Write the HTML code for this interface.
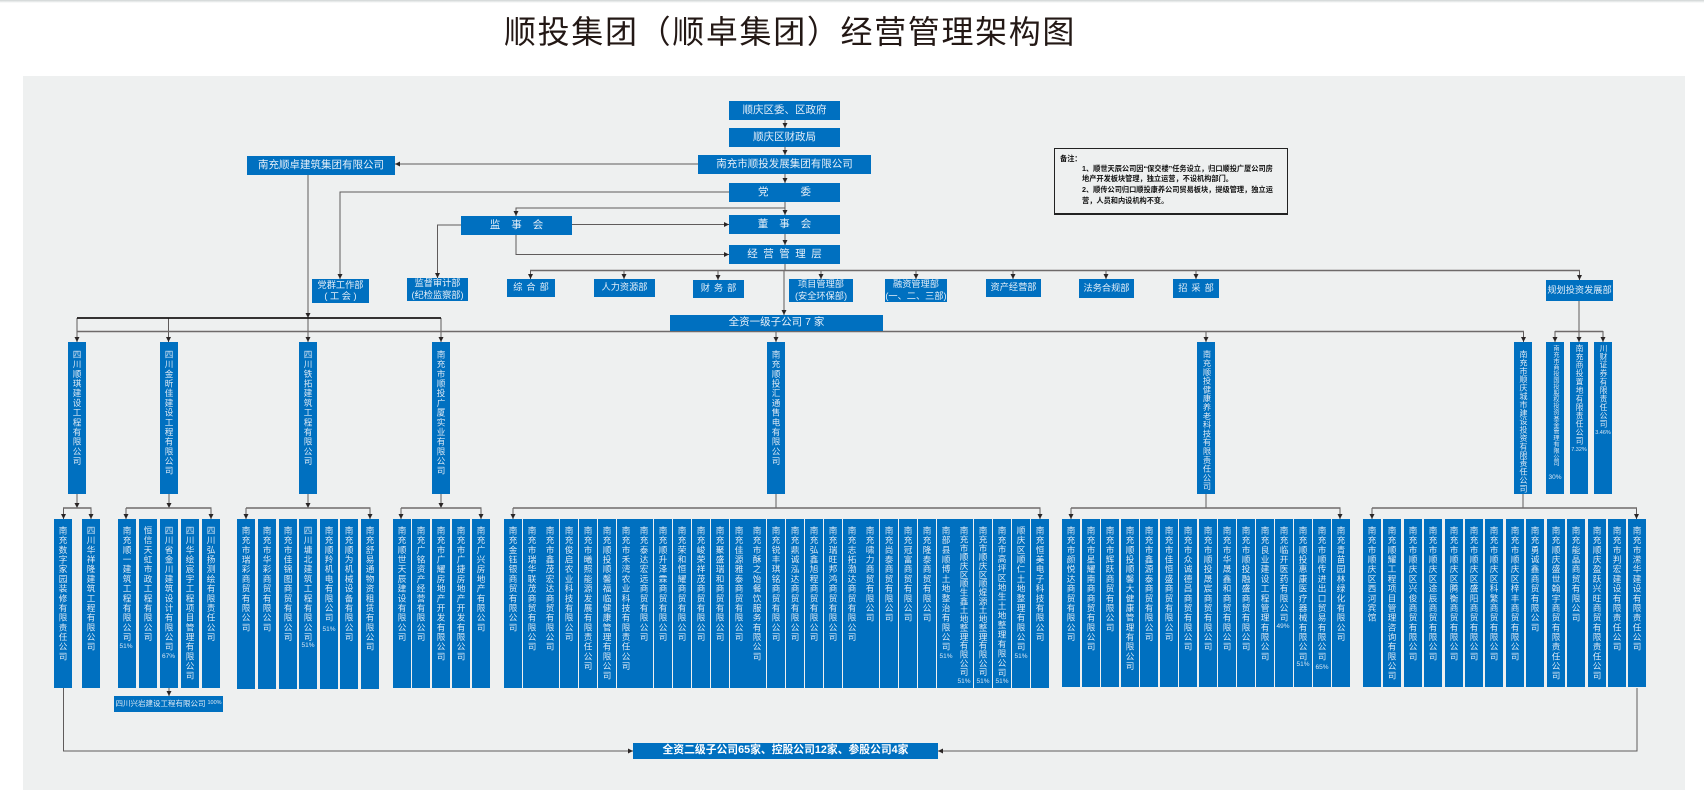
<!DOCTYPE html>
<html lang="zh">
<head>
<meta charset="utf-8">
<title>顺投集团&#xFF08;顺卓集团&#xFF09;经营管理架构图</title>
<style>
html,body{margin:0;padding:0;background:#fff}
#p{position:relative;width:1704px;height:807px;overflow:hidden;background:#fff;font-family:"Liberation Sans","Noto Sans CJK SC",sans-serif}
#top{position:absolute;left:0;top:0;width:1704px;height:3px;background:linear-gradient(#cfd4d4,#fff)}
#t{position:absolute;left:504px;top:12px;font-size:32px;line-height:40px;letter-spacing:1.65px;color:#231815;font-weight:400;white-space:nowrap}
#bg{position:absolute;left:23px;top:76px;width:1662px;height:714px;background:#eef0f0}
svg{position:absolute;left:0;top:0}
.b{position:absolute;background:#0070c0;color:#e3eef8;text-align:center;font-size:10.5px;white-space:nowrap;display:flex;align-items:center;justify-content:center;line-height:11.5px}
.d{font-size:9.2px}
.v,.l{position:absolute;background:#0070c0;color:#dce9f5;width:18px;writing-mode:vertical-rl;text-orientation:upright;font-size:8.6px;letter-spacing:1.07px;line-height:18px;white-space:nowrap;box-sizing:border-box}
.v{top:519px;height:169px;padding-top:6.5px}
.l{top:342px;height:152px;padding-top:7.5px}
.p{position:absolute;font-style:normal;color:#d5e5f3;font-size:6.5px;line-height:8px;transform:translate(-50%,-50%);white-space:nowrap}
#n{position:absolute;left:1054px;top:148px;width:232px;height:64px;border:1px solid #222;border-bottom-width:2px;color:#111;font-weight:bold;font-size:7.2px;line-height:10.67px;white-space:nowrap}
</style>
</head>
<body>
<div id="p">
<div id="top"></div>
<div id="t">顺投集团&#xFF08;顺卓集团&#xFF09;经营管理架构图</div>
<div id="bg"></div>
<svg width="1704" height="807" viewBox="0 0 1704 807" fill="none" stroke="#5f5b5b" stroke-width="1">
<defs><marker id="a" viewBox="0 0 6 6" refX="6" refY="3" markerWidth="5" markerHeight="5" markerUnits="userSpaceOnUse" orient="auto"><path d="M0 0L6 3L0 6z" fill="#2a2525" stroke="none"/></marker></defs>
<g marker-end="url(#a)">
<path d="M785 120V128"/><path d="M785 147V155"/><path d="M698 164H395"/><path d="M308 175V318"/>
<path d="M785 174V183"/><path d="M785 202V215"/><path d="M785 208H516V216"/><path d="M572 224.5H729"/>
<path d="M461 225H437.5V278"/><path d="M516 235V254.5H729"/><path d="M785 234V245"/><path d="M729 192H340V279"/>
<path d="M530.5 271V279"/><path d="M624 271V279"/><path d="M718 271V280"/><path d="M821 271V279"/><path d="M916 271V279"/><path d="M1013 271V279"/><path d="M1106 271V279"/><path d="M1196 271V279"/><path d="M1579.5 271V280"/>
<path d="M784 271V315"/>
<path d="M77 318V342"/><path d="M168.5 318V342"/><path d="M308 318V342"/><path d="M441 318V342"/>
<path d="M776 331V342"/><path d="M1206 331V342"/><path d="M1523.5 331V342"/><path d="M1555 331V342"/><path d="M1579 301V342"/><path d="M1603 331V342"/>
<path d="M77 494V508"/><path d="M169 494V508"/><path d="M308 494V508"/><path d="M441 494V508"/>
<path d="M63.5 508V519"/><path d="M91 508V519"/><path d="M126 508V519"/><path d="M211 508V519"/><path d="M246 508V519"/><path d="M370 508V519"/><path d="M401 508V519"/><path d="M481 508V519"/>
<path d="M513 508V519"/><path d="M1040 508V519"/><path d="M1071 508V519"/><path d="M1340 508V519"/><path d="M1372 508V519"/><path d="M1636.5 508V519"/>
<path d="M169 688V696"/>
<path d="M63.5 688V751H633"/><path d="M1637 688V751H938"/>
</g>
<path d="M785 264V271"/>
<path d="M776 494V508M1206 494V508M1523 494V508"/>
<g stroke-width="1.5" stroke="#6e6a6a">
<path d="M530 270.5H1580"/>
<path d="M77 331.5H1524"/>
<path d="M1555 331.5H1603"/>
<path d="M63 508H91.5M126 508H211.5M246 508H370.5M401 508H481.5M513 508H1040.5M1071 508H1340.5M1372 508H1637"/>
</g>
<path d="M77 318H441" stroke="#1a1717" stroke-width="1.8"/>
</svg>

<div class="b" style="left:729px;top:101px;width:111px;height:19px">顺庆区委、区政府</div>
<div class="b" style="left:729px;top:128px;width:111px;height:19px">顺庆区财政局</div>
<div class="b" style="left:698px;top:155px;width:173px;height:19px">南充市顺投发展集团有限公司</div>
<div class="b" style="left:247px;top:156px;width:148px;height:19px">南充顺卓建筑集团有限公司</div>
<div class="b" style="left:729px;top:183px;width:111px;height:19px;letter-spacing:32px;text-indent:32px">党委</div>
<div class="b" style="left:729px;top:215px;width:111px;height:19px;letter-spacing:11px;text-indent:11px">董事会</div>
<div class="b" style="left:461px;top:216px;width:111px;height:19px;letter-spacing:11px;text-indent:11px">监事会</div>
<div class="b" style="left:729px;top:245px;width:111px;height:19px;letter-spacing:5.5px;text-indent:5.5px">经营管理层</div>

<div class="b d" style="left:312px;top:279px;width:57px;height:24px">党群工作部<br>( 工 会 )</div>
<div class="b d" style="left:407px;top:278px;width:61px;height:23px">监督审计部<br>(纪检监察部)</div>
<div class="b d" style="left:507px;top:279px;width:48px;height:18px;letter-spacing:4px;text-indent:4px">综合部</div>
<div class="b d" style="left:594px;top:279px;width:61px;height:18px">人力资源部</div>
<div class="b d" style="left:693px;top:280px;width:51px;height:18px;letter-spacing:4px;text-indent:4px">财务部</div>
<div class="b d" style="left:789px;top:279px;width:64px;height:23px">项目管理部<br>(安全环保部)</div>
<div class="b d" style="left:885px;top:279px;width:62px;height:23px">融资管理部<br>(一、二、三部)</div>
<div class="b d" style="left:986px;top:279px;width:55px;height:18px">资产经营部</div>
<div class="b d" style="left:1079px;top:279px;width:55px;height:19px">法务合规部</div>
<div class="b d" style="left:1173px;top:279px;width:46px;height:19px;letter-spacing:4px;text-indent:4px">招采部</div>
<div class="b d" style="left:1546px;top:280px;width:67px;height:21px">规划投资发展部</div>
<div class="b" style="left:670px;top:315px;width:213px;height:15.5px">全资一级子公司 7 家</div>

<div id="n"><div style="position:absolute;left:5px;top:5px">备注&#xFF1A;</div><div style="position:absolute;left:27px;top:14.5px">1、顺世天辰公司因“保交楼”任务设立&#xFF0C;归口顺投广厦公司房<br>地产开发板块管理&#xFF0C;独立运营&#xFF0C;不设机构部门。<br>2、顺传公司归口顺投康养公司贸易板块&#xFF0C;提级管理&#xFF0C;独立运<br>营&#xFF0C;人员和内设机构不变。</div></div>

<div class="l" style="left:68px">四川顺琪建设工程有限公司</div>
<div class="l" style="left:160px">四川金昕佳建设工程有限公司</div>
<div class="l" style="left:299px">四川铁拓建筑工程有限公司</div>
<div class="l" style="left:432px">南充市顺投广厦实业有限公司</div>
<div class="l" style="left:767px">南充顺投汇通售电有限公司</div>
<div class="l" style="left:1197px;font-size:8.2px;letter-spacing:.6px">南充顺投健康养老科技有限责任公司</div>
<div class="l" style="left:1514px;font-size:8px;letter-spacing:.4px">南充市顺庆城市建设投资有限责任公司</div>
<div class="l" style="left:1546px;font-size:6.2px;letter-spacing:.2px;padding-top:2.9px">南充市商投国投股权投资基金管理有限公司</div>
<div class="l" style="left:1570px;font-size:7.8px;letter-spacing:.63px;padding-top:2.1px">南充商投置地有限责任公司</div>
<div class="l" style="left:1594px;font-size:7.8px;letter-spacing:.63px;padding-top:2.1px">川财证券有限责任公司</div>

<div class="v" style="left:54px">南充数字家园装修有限责任公司</div>
<div class="v" style="left:82px">四川华祥隆建筑工程有限公司</div>
<div class="v" style="left:118px">南充顺一建筑工程有限公司</div>
<div class="v" style="left:139px">恒信天虹市政工程有限公司</div>
<div class="v" style="left:160px">四川省金川建筑设计有限公司</div>
<div class="v" style="left:181px">四川华绘宸宇工程项目管理有限公司</div>
<div class="v" style="left:202px">四川弘扬测绘有限责任公司</div>
<div class="v" style="left:237px;height:170px">南充市瑞彩商贸有限公司</div>
<div class="v" style="left:258px;height:170px">南充市华彩商贸有限公司</div>
<div class="v" style="left:279px;height:170px">南充市佳锦图商贸有限公司</div>
<div class="v" style="left:299px;height:170px">四川墉北建筑工程有限公司</div>
<div class="v" style="left:320px;height:170px">南充顺羚机电有限公司</div>
<div class="v" style="left:340px;height:170px">南充顺为机械设备有限公司</div>
<div class="v" style="left:361px;height:170px">南充舒易通物资租赁有限公司</div>
<div class="v" style="left:393px">南充顺世天辰建设有限公司</div>
<div class="v" style="left:412px">南充广铭资产经营有限公司</div>
<div class="v" style="left:432px">南充市广耀房地产开发有限公司</div>
<div class="v" style="left:452px">南充市广捷房地产开发有限公司</div>
<div class="v" style="left:472px">南充广兴房地产有限公司</div>

<div class="v" style="left:504px">南充金钰银商贸有限公司</div>
<div class="v" style="left:523px">南充市瑞华联茂商贸有限公司</div>
<div class="v" style="left:541px">南充市鑫茂宏达商贸有限公司</div>
<div class="v" style="left:560px">南充俊启农业科技有限公司</div>
<div class="v" style="left:579px">南充市曦照能源发展有限责任公司</div>
<div class="v" style="left:598px">南充顺投顺馨福临健康管理有限公司</div>
<div class="v" style="left:617px">南充市禾湾农业科技有限责任公司</div>
<div class="v" style="left:635px">南充泰达宏远商贸有限公司</div>
<div class="v" style="left:654px">南充顺升泽霖商贸有限公司</div>
<div class="v" style="left:673px">南充荣和恒耀商贸有限公司</div>
<div class="v" style="left:692px">南充峻荣祥茂商贸有限公司</div>
<div class="v" style="left:711px">南充聚盛瑞和商贸有限公司</div>
<div class="v" style="left:730px">南充佳源雅泰商贸有限公司</div>
<div class="v" style="left:748px">南充市酥之饴餐饮服务有限公司</div>
<div class="v" style="left:767px">南充锐丰琪铭商贸有限公司</div>
<div class="v" style="left:786px">南充鼎诚泓达商贸有限公司</div>
<div class="v" style="left:805px">南充弘鑫旭程商贸有限公司</div>
<div class="v" style="left:824px">南充瑞旺邦鸿商贸有限公司</div>
<div class="v" style="left:843px">南充志拓渤达商贸有限公司</div>
<div class="v" style="left:861px">南充啸力商贸有限公司</div>
<div class="v" style="left:880px">南充尚泰商贸有限公司</div>
<div class="v" style="left:899px">南充冠富商贸有限公司</div>
<div class="v" style="left:918px">南充隆泰商贸有限公司</div>
<div class="v" style="left:937px">南部县顺博土地整治有限公司</div>
<div class="v" style="left:955px;letter-spacing:.25px">南充市顺庆区顺生鑫土地整理有限公司</div>
<div class="v" style="left:974px;letter-spacing:.25px">南充市顺庆区顺煋源土地整理有限公司</div>
<div class="v" style="left:993px;letter-spacing:.85px">南充市高坪区地生土地整理有限公司</div>
<div class="v" style="left:1012px">顺庆区顺仁土地整理有限公司</div>
<div class="v" style="left:1031px">南充恒美电子科技有限公司</div>

<div class="v" style="left:1062px;height:168px">南充市颜悦达商贸有限公司</div>
<div class="v" style="left:1082px;height:168px">南充市星耀南商商贸有限公司</div>
<div class="v" style="left:1101px;height:168px">南充市辉跃商贸有限公司</div>
<div class="v" style="left:1121px;height:168px">南充顺投顺馨大健康管理有限公司</div>
<div class="v" style="left:1140px;height:168px">南充市鑫源泰商贸有限公司</div>
<div class="v" style="left:1160px;height:168px">南充市佳恒盛商贸有限公司</div>
<div class="v" style="left:1179px;height:168px">南充市众诚德昌商贸有限公司</div>
<div class="v" style="left:1199px;height:168px">南充市顺投晟宸商贸有限公司</div>
<div class="v" style="left:1218px;height:168px">南充市华晟鑫和商贸有限公司</div>
<div class="v" style="left:1237px;height:168px">南充市顺投融盛商贸有限公司</div>
<div class="v" style="left:1256px;height:168px">南充良业建设工程管理有限公司</div>
<div class="v" style="left:1275px;height:168px">南充临开医药有限公司</div>
<div class="v" style="left:1294px;height:168px">南充顺投惠康医疗器械有限公司</div>
<div class="v" style="left:1313px;height:168px">南充市顺传进出口贸易有限公司</div>
<div class="v" style="left:1332px;height:168px">南充青苗园林绿化有限公司</div>

<div class="v" style="left:1363px;height:168px">南充市顺庆区西河宾馆</div>
<div class="v" style="left:1383px;height:168px">南充顺耀工程项目管理咨询有限公司</div>
<div class="v" style="left:1404px;height:168px">南充市顺庆区兴俊商贸有限公司</div>
<div class="v" style="left:1424px;height:168px">南充市顺庆区途辰商贸有限公司</div>
<div class="v" style="left:1445px;height:168px">南充市顺庆区腾衡商贸有限公司</div>
<div class="v" style="left:1465px;height:168px">南充市顺庆区盛阳商贸有限公司</div>
<div class="v" style="left:1485px;height:168px">南充市顺庆区科繁商贸有限公司</div>
<div class="v" style="left:1506px;height:168px">南充市顺庆区梓丰商贸有限公司</div>
<div class="v" style="left:1526px;height:168px">南充勇诚鑫商贸有限公司</div>
<div class="v" style="left:1547px;height:168px">南充顺庆盛世翰宇商贸有限责任公司</div>
<div class="v" style="left:1567px;height:168px">南充能晶商贸有限公司</div>
<div class="v" style="left:1588px;height:168px">南充顺庆盈跃兴旺商贸有限责任公司</div>
<div class="v" style="left:1608px;height:168px">南充市判宏建设有限责任公司</div>
<div class="v" style="left:1628px;height:168px">南充市潆华建设有限责任公司</div>

<i class="p" style="left:126px;top:646.5px">51%</i>
<i class="p" style="left:168.5px;top:657px">67%</i>
<i class="p" style="left:308px;top:646px">51%</i>
<i class="p" style="left:329px;top:630px">51%</i>
<i class="p" style="left:946px;top:657px">51%</i>
<i class="p" style="left:964px;top:682px">51%</i>
<i class="p" style="left:983px;top:682px">51%</i>
<i class="p" style="left:1002px;top:682px">51%</i>
<i class="p" style="left:1021px;top:657px">51%</i>
<i class="p" style="left:1283px;top:627px">49%</i>
<i class="p" style="left:1303px;top:665px">51%</i>
<i class="p" style="left:1322px;top:668px">65%</i>
<i class="p" style="left:1555px;top:478px">30%</i>
<i class="p" style="left:1579px;top:450px;font-size:5.5px">7.32%</i>
<i class="p" style="left:1603px;top:433px;font-size:5.5px">3.46%</i>

<div class="b" style="left:114px;top:696px;width:109px;height:16px;font-size:7.5px;color:#dce9f5">四川兴岩建设工程有限公司<span style="font-size:5.5px;margin-left:2px">100%</span></div>
<div class="b" style="left:633px;top:743px;width:305px;height:16px;font-size:10.8px;font-weight:bold;color:#fff">全资二级子公司65家、控股公司12家、参股公司4家</div>
</div>
</body>
</html>
